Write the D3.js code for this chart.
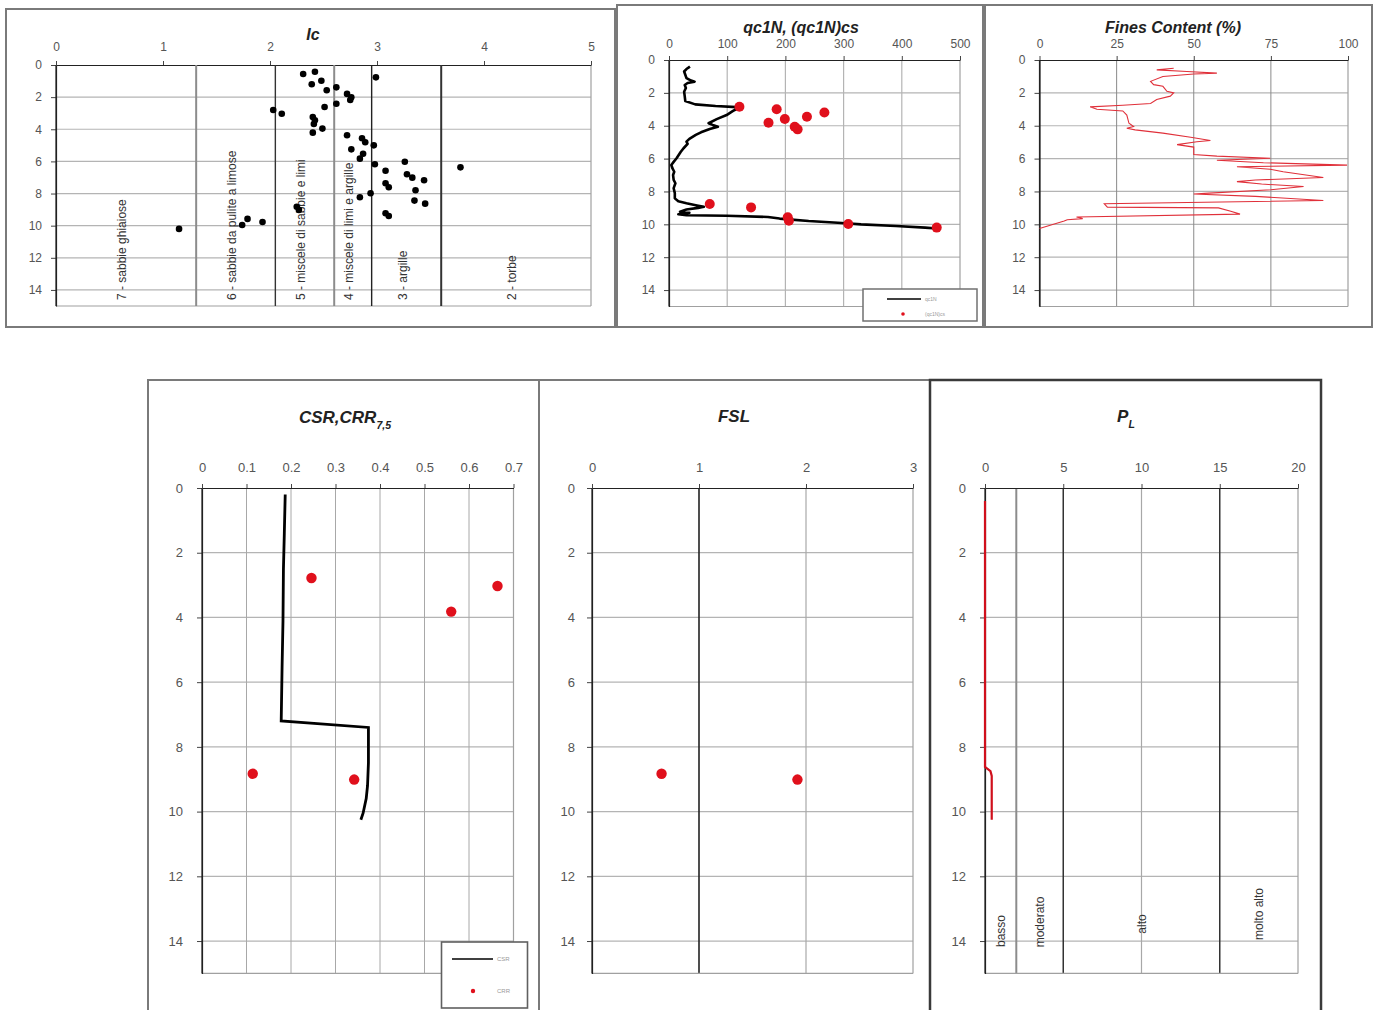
<!DOCTYPE html>
<html><head><meta charset="utf-8">
<script src="https://cdn.jsdelivr.net/npm/d3@7/dist/d3.min.js"></script>
<style>
html,body{margin:0;padding:0;background:#fff;}
svg{display:block;font-family:"Liberation Sans",Arial,sans-serif;}
</style></head>
<body>
<svg id="chart" width="1379" height="1010"></svg>
<script>
// ---------------- DATA ----------------
const depthTicks = [0,2,4,6,8,10,12,14];

// Ic panel
const icTicks = [0,1,2,3,4,5];
const icZoneBounds = [1.31, 2.05, 2.6, 2.95, 3.6];
const icZoneLabels = ["7 - sabbie ghiaiose","6 - sabbie da pulite a limose","5 - miscele di sabbie e limi","4 - miscele di limi e argille","3 - argille","2 - torbe"];
const icDepth = [0.56,0.42,1.20,0.98,1.57,1.39,1.80,2.01,2.18,2.61,2.41,2.80,3.03,3.24,3.44,3.67,3.96,4.21,0.77,4.37,4.56,4.81,5.00,5.25,5.52,5.83,6.18,6.02,6.58,6.80,7.01,7.17,7.36,7.61,7.80,8.23,7.98,8.44,8.63,9.23,9.40,6.37,8.82,9.02,10.2,9.96,9.58,9.77];
const icValues = [2.31,2.42,2.39,2.48,2.53,2.62,2.72,2.76,2.75,2.51,2.62,2.03,2.11,2.40,2.42,2.41,2.49,2.40,2.99,2.72,2.86,2.89,2.97,2.76,2.87,2.84,2.98,3.26,3.08,3.28,3.33,3.44,3.08,3.11,3.36,2.84,2.94,3.35,3.45,3.08,3.11,3.78,2.25,2.27,1.15,1.74,1.79,1.93];

// qc1N panel
const qcTicks = [0,100,200,300,400,500];
const qcDepth = [0.4,0.55,0.7,0.9,1.1,1.25,1.32,1.4,1.52,1.7,1.93,2.2,2.5,2.7,2.8,2.87,2.95,3.1,3.35,3.6,3.85,3.95,4.06,4.2,4.4,4.56,4.8,4.97,5.1,5.37,5.6,5.98,6.2,6.39,6.6,6.8,7.0,7.3,7.5,7.8,8.1,8.42,8.6,8.72,8.85,8.93,9.0,9.1,9.23,9.3,9.35,9.39,9.45,9.48,9.55,9.6,9.65,9.7,9.8,9.9,10.0,10.1,10.2,10.25];
const qcValues = [36,30,26,28,30,38,44,32,27,29,26,27,28,45,80,116,118,110,99,82,68,75,84,70,55,46,35,30,32,25,20,13,8,4,6,9,7,8,11,8,10,10,16,30,48,60,50,30,19,35,22,16,30,99,170,180,190,205,240,290,330,390,440,460];
const qcsDepth = [2.84,3.0,3.82,3.59,3.45,3.2,4.06,4.22,8.76,8.97,9.57,9.78,9.98,10.2];
const qcsValues = [121,185,171,199,237,267,216,221,70,141,204,206,308,460];
const qcLegend = ["qc1N","(qc1N)cs"];

// Fines content panel
const fcTicks = [0,25,50,75,100];
const fcDepth = [0.5,0.6,0.7,0.8,0.85,1.0,1.3,1.5,1.6,1.9,2.0,2.2,2.4,2.65,2.75,2.85,3.0,3.1,3.35,3.85,4.05,4.15,4.25,4.45,4.7,4.9,4.97,5.15,5.3,5.75,5.85,5.98,6.1,6.25,6.4,6.5,6.65,6.8,7.15,7.3,7.4,7.55,7.7,7.9,8.1,8.15,8.3,8.55,8.75,8.95,9.0,9.2,9.38,9.55,9.65,9.72,9.8,10.25];
const fcValues = [43.5,38,47.8,57.5,50,40,36,37,40,41.3,43.5,42.4,38,36,27,16.4,18.6,27,28.3,29,30.5,28.3,31,40,49,55.4,51,44.6,50,50,57.5,74.8,57.5,72.6,99.7,64,74.8,79,92,70,64,72,85.6,75,55,50,70,92,21,22,58,62,65,12,14,9,8,0];

// CSR / CRR panel
const csrTicks = [0,0.1,0.2,0.3,0.4,0.5,0.6,0.7];
const csrDepth = [0.2,1.4,2.5,4.1,5.5,7.2,7.4,8.5,9.2,9.6,10.05,10.25];
const csrValues = [0.187,0.185,0.183,0.182,0.180,0.178,0.374,0.374,0.372,0.369,0.362,0.357];
const crrDepth = [2.78,3.03,3.82,8.83,9.01];
const crrValues = [0.246,0.664,0.56,0.114,0.342];
const csrLegend = ["CSR","CRR"];

// FSL panel
const fslTicks = [0,1,2,3];
const fslDepth = [8.83,9.01];
const fslValues = [0.65,1.92];

// PL panel
const plTicks = [0,5,10,15,20];
const plZoneEdges = [0,2,5,15,20];
const plZoneLabels = ["basso","moderato","alto","molto alto"];
const plDepth = [0.4,8.62,8.75,8.9,10.25];
const plValues = [0,0,0.35,0.43,0.43];

// ---------------- DRAWING ----------------
const svg = d3.select("#chart");
const RED = "#e0101c";

function frame(x,y,w,h,color,sw){
  svg.append("rect").attr("x",x).attr("y",y).attr("width",w).attr("height",h)
    .attr("fill","none").attr("stroke",color||"#7a7a7a").attr("stroke-width",sw||2);
}

function panel(o){
  const g = svg.append("g");
  const x = d3.scaleLinear().domain(o.xDomain).range([o.x0,o.x1]);
  const y = d3.scaleLinear().domain([0,15]).range([o.y0,o.y1]);
  g.selectAll(".hg").data(depthTicks.filter(d=>d>0)).join("line")
    .attr("x1",o.x0).attr("x2",o.x1).attr("y1",d=>y(d)).attr("y2",d=>y(d))
    .attr("stroke","#b4b4b4").attr("stroke-width",1.2);
  (o.vGrid||[]).forEach(v=>{
    g.append("line").attr("x1",x(v.v)).attr("x2",x(v.v)).attr("y1",o.y0).attr("y2",o.y1)
      .attr("stroke",v.c).attr("stroke-width",v.w);
  });
  g.append("line").attr("x1",o.x1).attr("x2",o.x1).attr("y1",o.y0).attr("y2",o.y1).attr("stroke","#a0a0a0").attr("stroke-width",1.2);
  g.append("line").attr("x1",o.x0).attr("x2",o.x1).attr("y1",o.y1).attr("y2",o.y1).attr("stroke","#a0a0a0").attr("stroke-width",1.2);
  const ax = g.append("g").attr("transform",`translate(0,${o.y0})`)
    .call(d3.axisTop(x).tickValues(o.xTicks).tickSize(4).tickPadding(o.topPad).tickFormat(d3.format(o.fmt||"")).tickSizeOuter(0));
  const ay = g.append("g").attr("transform",`translate(${o.x0},0)`)
    .call(d3.axisLeft(y).tickValues(depthTicks).tickSize(5).tickPadding(o.leftPad).tickSizeOuter(0));
  [ax,ay].forEach(a=>{
    a.select(".domain").attr("stroke","#222").attr("stroke-width",1.2);
    a.selectAll(".tick line").attr("stroke","#444");
    a.selectAll("text").attr("fill","#555").style("font-size",o.fs+"px").style("font-family","'Liberation Sans',Arial,sans-serif");
  });
  g.append("line").attr("x1",o.x0).attr("x2",o.x0).attr("y1",o.y0).attr("y2",o.y1).attr("stroke","#222").attr("stroke-width",1.2);
  return {g,x,y};
}

function title(x,y,text,size,sub){
  const t = svg.append("text").attr("x",x).attr("y",y).attr("text-anchor","middle")
    .style("font-size",size+"px").style("font-weight","bold").style("font-style","italic").attr("fill","#222");
  t.append("tspan").text(text);
  if(sub) t.append("tspan").attr("baseline-shift","sub").style("font-size",(size*0.62)+"px").text(sub);
}

// ---- frames ----
frame(6,9,609,318);
frame(617,5,366,322);
frame(985,5,387,322);
frame(148,380,391,640);
frame(539,380,391,640);
frame(930,380,391,640,"#3a3a3a",2.5);

// ---- Ic ----
{
  const p = panel({x0:56,x1:591,y0:65,y1:306,xDomain:[0,5],xTicks:icTicks,topPad:10,leftPad:9,fs:12});
  const edges = [0,...icZoneBounds,5];
  const zc = ["#8c8c8c","#333","#8c8c8c","#222","#333"];
  icZoneBounds.forEach((b,i)=>{
    p.g.append("line").attr("x1",p.x(b)).attr("x2",p.x(b)).attr("y1",p.y(0)).attr("y2",p.y(15))
      .attr("stroke",zc[i]).attr("stroke-width",i%2===0?2:1.4);
  });
  icZoneLabels.forEach((lab,i)=>{
    const cx = (p.x(edges[i])+p.x(edges[i+1]))/2 - 4;
    p.g.append("text").attr("transform",`translate(${cx},300) rotate(-90)`)
      .attr("dy","0.35em").attr("fill","#333").style("font-size","12px").text(lab);
  });
  p.g.selectAll(".dot").data(icDepth.map((d,i)=>({d,v:icValues[i]}))).join("circle")
    .attr("cx",d=>p.x(d.v)).attr("cy",d=>p.y(d.d)).attr("r",3.3).attr("fill","#000");
  title(313,40,"Ic",16);
}

// ---- qc1N ----
{
  const p = panel({x0:669,x1:960,y0:60,y1:306.5,xDomain:[0,500],xTicks:qcTicks,topPad:8,leftPad:9,fs:12,
    vGrid:[100,200,300,400].map(v=>({v,c:"#b4b4b4",w:1.2}))});
  const line = d3.line().x(d=>p.x(d.v)).y(d=>p.y(d.d));
  p.g.append("path").datum(qcDepth.map((d,i)=>({d,v:qcValues[i]})))
    .attr("d",line).attr("fill","none").attr("stroke","#000").attr("stroke-width",2.6).attr("stroke-linejoin","round");
  p.g.selectAll(".dot").data(qcsDepth.map((d,i)=>({d,v:qcsValues[i]}))).join("circle")
    .attr("cx",d=>p.x(d.v)).attr("cy",d=>p.y(d.d)).attr("r",5).attr("fill",RED);
  svg.append("rect").attr("x",863).attr("y",289).attr("width",114).attr("height",32).attr("fill","#fff").attr("stroke","#707070").attr("stroke-width",1.5);
  svg.append("line").attr("x1",887).attr("x2",921).attr("y1",299).attr("y2",299).attr("stroke","#000").attr("stroke-width",1.3);
  svg.append("circle").attr("cx",903).attr("cy",314).attr("r",1.8).attr("fill",RED);
  svg.append("text").attr("x",925).attr("y",301).attr("fill","#999").style("font-size","5px").text(qcLegend[0]);
  svg.append("text").attr("x",925).attr("y",316).attr("fill","#999").style("font-size","5px").text(qcLegend[1]);
  title(801,33,"qc1N, (qc1N)cs",16);
}

// ---- Fines ----
{
  const p = panel({x0:1039.5,x1:1348,y0:60,y1:306.5,xDomain:[0,100],xTicks:fcTicks,topPad:8,leftPad:9,fs:12,
    vGrid:[25,50,75].map(v=>({v,c:"#8a8a8a",w:1}))});
  const line = d3.line().x(d=>p.x(d.v)).y(d=>p.y(d.d));
  p.g.append("path").datum(fcDepth.map((d,i)=>({d,v:fcValues[i]})))
    .attr("d",line).attr("fill","none").attr("stroke","#e0303a").attr("stroke-width",1.1);
  title(1173,33,"Fines Content (%)",16);
}

// ---- CSR, CRR ----
{
  const p = panel({x0:202,x1:513.5,y0:488,y1:973.4,xDomain:[0,0.7],xTicks:csrTicks,topPad:12,leftPad:14,fs:13,fmt:"",
    vGrid:[0.1,0.2,0.3,0.4,0.5,0.6].map(v=>({v,c:"#a8a8a8",w:1}))});
  const line = d3.line().x(d=>p.x(d.v)).y(d=>p.y(d.d));
  p.g.append("path").datum(csrDepth.map((d,i)=>({d,v:csrValues[i]})))
    .attr("d",line).attr("fill","none").attr("stroke","#000").attr("stroke-width",2.8);
  p.g.selectAll(".dot").data(crrDepth.map((d,i)=>({d,v:crrValues[i]}))).join("circle")
    .attr("cx",d=>p.x(d.v)).attr("cy",d=>p.y(d.d)).attr("r",5.2).attr("fill",RED);
  svg.append("rect").attr("x",441.5).attr("y",942).attr("width",86).attr("height",66).attr("fill","#fff").attr("stroke","#606060").attr("stroke-width",1.6);
  svg.append("line").attr("x1",452).attr("x2",493).attr("y1",959).attr("y2",959).attr("stroke","#000").attr("stroke-width",1.4);
  svg.append("circle").attr("cx",473).attr("cy",991).attr("r",2.2).attr("fill",RED);
  svg.append("text").attr("x",497).attr("y",961).attr("fill","#999").style("font-size","6px").text(csrLegend[0]);
  svg.append("text").attr("x",497).attr("y",993).attr("fill","#999").style("font-size","6px").text(csrLegend[1]);
  title(345,423,"CSR,CRR",17,"7,5");
}

// ---- FSL ----
{
  const p = panel({x0:592,x1:913,y0:488,y1:973.4,xDomain:[0,3],xTicks:fslTicks,topPad:12,leftPad:12,fs:13,
    vGrid:[{v:1,c:"#222",w:1.6},{v:2,c:"#a8a8a8",w:1.2}]});
  p.g.selectAll(".dot").data(fslDepth.map((d,i)=>({d,v:fslValues[i]}))).join("circle")
    .attr("cx",d=>p.x(d.v)).attr("cy",d=>p.y(d.d)).attr("r",5.2).attr("fill",RED);
  title(734,422,"FSL",17);
}

// ---- PL ----
{
  const p = panel({x0:985,x1:1298,y0:488,y1:973.4,xDomain:[0,20],xTicks:plTicks,topPad:12,leftPad:14,fs:13,
    vGrid:[{v:2,c:"#8c8c8c",w:2},{v:5,c:"#333",w:1.5},{v:10,c:"#a8a8a8",w:1.2},{v:15,c:"#333",w:1.5}]});
  const cy = [931,922,924,914];
  plZoneLabels.forEach((lab,i)=>{
    const cx = (p.x(plZoneEdges[i])+p.x(plZoneEdges[i+1]))/2;
    p.g.append("text").attr("transform",`translate(${cx},${cy[i]}) rotate(-90)`)
      .attr("text-anchor","middle").attr("dy","0.35em").attr("fill","#333").style("font-size","12px").text(lab);
  });
  const line = d3.line().x(d=>p.x(d.v)).y(d=>p.y(d.d));
  p.g.append("path").datum(plDepth.map((d,i)=>({d,v:plValues[i]})))
    .attr("d",line).attr("fill","none").attr("stroke","#d0101c").attr("stroke-width",2.2);
  title(1126,422,"P",17,"L");
}
</script>
</body></html>
